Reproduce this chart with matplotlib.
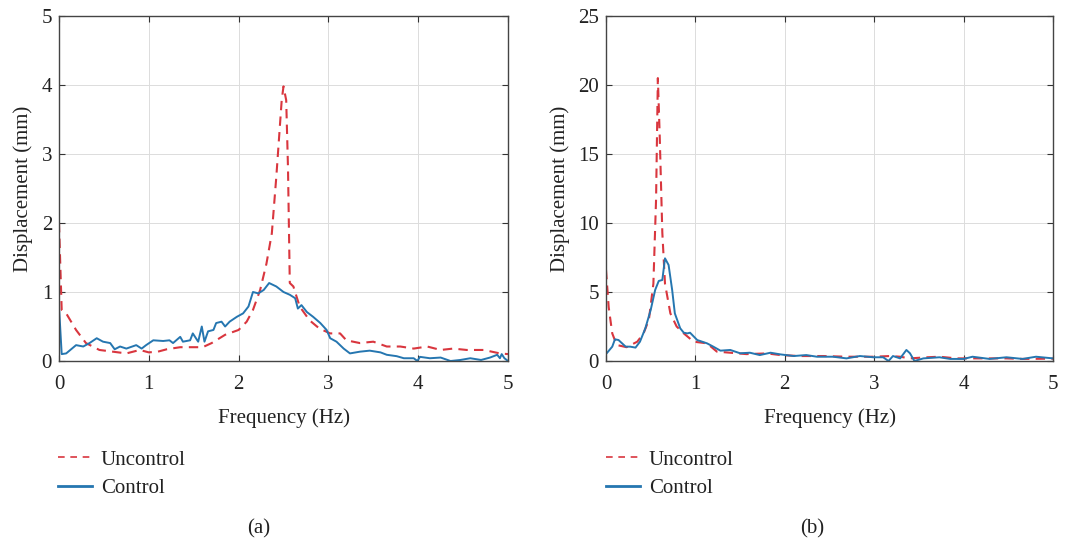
import matplotlib
matplotlib.use("Agg")
import matplotlib.pyplot as plt
from matplotlib.lines import Line2D

plt.rcParams['font.family'] = ['Liberation Serif', 'DejaVu Serif']

# ---- Panel (a) data ----
a_unc_f = [0.0, 0.03, 0.08, 0.19, 0.3, 0.45, 0.6, 0.75, 0.9, 1.0, 1.1, 1.2, 1.35, 1.5, 1.6, 1.7, 1.85, 2.0, 2.09,
           2.16, 2.24, 2.31, 2.37, 2.42, 2.48, 2.5, 2.53, 2.55, 2.57, 2.61, 2.68, 2.79, 2.9, 3.02, 3.13, 3.2,
           3.35, 3.5, 3.65, 3.8, 3.95, 4.1, 4.25, 4.39, 4.54, 4.73, 4.91, 5.0]
a_unc_v = [2.0, 0.74, 0.69, 0.45, 0.26, 0.16, 0.135, 0.11, 0.16, 0.125, 0.135, 0.17, 0.2, 0.2, 0.2, 0.26, 0.38, 0.45,
           0.57, 0.74, 1.03, 1.41, 1.85, 2.67, 3.78, 3.98, 3.78, 2.8, 1.13, 1.08, 0.79, 0.59, 0.47, 0.4, 0.4, 0.3,
           0.26, 0.28, 0.21, 0.21, 0.18, 0.21, 0.16, 0.18, 0.16, 0.16, 0.11, 0.1]

a_ctl_f = [0.0, 0.03, 0.08, 0.19, 0.27, 0.34, 0.42, 0.49, 0.57, 0.62, 0.68, 0.75, 0.86, 0.92, 0.97, 1.05, 1.16,
           1.23, 1.27, 1.35, 1.38, 1.46, 1.49, 1.55, 1.59, 1.62, 1.66, 1.72, 1.75, 1.81, 1.85, 1.9, 1.98, 2.05,
           2.11, 2.16, 2.22, 2.28, 2.34, 2.42, 2.5, 2.57, 2.63, 2.66, 2.7, 2.76, 2.83, 2.91, 2.98, 3.02, 3.09,
           3.17, 3.24, 3.35, 3.46, 3.58, 3.65, 3.76, 3.84, 3.95, 3.99, 4.02, 4.13, 4.25, 4.36, 4.47, 4.58, 4.7,
           4.8, 4.88, 4.91, 4.93, 4.96, 5.0]
a_ctl_v = [0.79, 0.1, 0.11, 0.23, 0.21, 0.26, 0.33, 0.28, 0.26, 0.17, 0.21, 0.18, 0.23, 0.18, 0.23, 0.3, 0.29,
           0.3, 0.26, 0.35, 0.28, 0.3, 0.4, 0.28, 0.5, 0.28, 0.43, 0.45, 0.55, 0.57, 0.5, 0.57, 0.64, 0.69,
           0.79, 1.0, 0.98, 1.03, 1.13, 1.08, 1.0, 0.96, 0.91, 0.76, 0.81, 0.71, 0.64, 0.55, 0.45, 0.33, 0.28,
           0.18, 0.11, 0.135, 0.15, 0.125, 0.09, 0.07, 0.04, 0.04, 0.0, 0.06, 0.04, 0.05, 0.0, 0.015, 0.04, 0.015,
           0.05, 0.09, 0.04, 0.1, 0.04, 0.0]

# ---- Panel (b) data ----
b_unc_f = [0.0, 0.03, 0.07, 0.12, 0.23, 0.35, 0.42, 0.48, 0.53, 0.56, 0.58, 0.6, 0.63, 0.66, 0.72, 0.79, 0.87,
           0.98, 1.13, 1.24, 1.39, 1.57, 1.8, 1.95, 2.17, 2.43, 2.69, 2.99, 3.18, 3.29, 3.4, 3.59, 3.73, 3.92,
           4.1, 4.48, 4.66, 5.0]
b_unc_v = [6.6, 3.9, 2.0, 1.16, 1.0, 1.4, 2.0, 3.0, 5.6, 11.7, 20.5, 16.5, 9.3, 5.6, 3.45, 2.5, 2.0,
           1.4, 1.28, 0.68, 0.6, 0.5, 0.55, 0.43, 0.36, 0.36, 0.31, 0.31, 0.36, 0.31, 0.19, 0.27, 0.31, 0.19,
           0.19, 0.19, 0.15, 0.17]

b_ctl_f = [0.0, 0.07, 0.1, 0.14, 0.22, 0.27, 0.33, 0.38, 0.44, 0.5, 0.55, 0.59, 0.63, 0.66, 0.7, 0.74, 0.77,
           0.83, 0.87, 0.91, 0.94, 1.02, 1.13, 1.2, 1.28, 1.39, 1.5, 1.61, 1.72, 1.84, 1.95, 2.1, 2.24, 2.36,
           2.54, 2.69, 2.84, 2.99, 3.1, 3.16, 3.21, 3.29, 3.36, 3.4, 3.45, 3.55, 3.73, 3.85, 4.0, 4.1, 4.29,
           4.48, 4.66, 4.81, 5.0]
b_ctl_v = [0.5, 1.04, 1.57, 1.52, 1.04, 1.04, 0.97, 1.4, 2.37, 3.7, 5.15, 5.8, 5.87, 7.44, 6.96, 5.15, 3.45,
           2.37, 2.05, 2.0, 2.05, 1.52, 1.28, 1.04, 0.75, 0.8, 0.56, 0.6, 0.43, 0.6, 0.48, 0.36, 0.43, 0.31,
           0.31, 0.19, 0.36, 0.27, 0.27, 0.0, 0.36, 0.19, 0.8, 0.56, 0.0, 0.19, 0.27, 0.15, 0.15, 0.31, 0.15,
           0.27, 0.15, 0.31, 0.19]

x_ticks = [0, 1, 2, 3, 4, 5]
a_yticks = [0, 1, 2, 3, 4, 5]
b_yticks = [0, 5, 10, 15, 20, 25]

RED = '#d9363e'
BLUE = '#2576b0'
FS = 15

W, H = 1071, 539
fig = plt.figure(figsize=(W / 100, H / 100), dpi=100)

def px(x0, x1, ytop, ybot):
    return [x0 / W, 1 - ybot / H, (x1 - x0) / W, (ybot - ytop) / H]

panels = [
    (px(59, 508, 16, 361), a_unc_f, a_unc_v, a_ctl_f, a_ctl_v, a_yticks, '(a)', 259, 58),
    (px(606, 1053, 16, 361), b_unc_f, b_unc_v, b_ctl_f, b_ctl_v, b_yticks, '(b)', 812, 606),
]

for rect, uf, uv, cf, cv, yt, tag, tagx, legx in panels:
    ax = fig.add_axes(rect)
    ax.plot(uf, uv, color=RED, lw=1.5, ls=(0, (4.5, 3)))
    ax.plot(cf, cv, color=BLUE, lw=1.4)
    ax.set_xlim(0, 5)
    ax.set_ylim(yt[0], yt[-1])
    ax.set_xticks(x_ticks)
    ax.set_yticks(yt)
    ax.grid(True, color='#dcdcdc', lw=0.7)
    ax.set_axisbelow(True)
    ax.tick_params(direction='in', top=True, right=True, labelsize=FS, length=4,
                   color='#333333', labelcolor='#222222')
    ax.tick_params(axis='x', pad=10)
    ax.tick_params(axis='y', pad=5)
    for s in ax.spines.values():
        s.set_color('#444444')
        s.set_linewidth(1.0)
    ax.set_xlabel('Frequency (Hz)', fontsize=FS, color='#222222', labelpad=10)
    ax.set_ylabel('Displacement (mm)', fontsize=FS, color='#222222', labelpad=6)

    handles = [Line2D([], [], color=RED, lw=1.2, ls=(0, (4, 3.4))),
               Line2D([], [], color=BLUE, lw=2.0)]
    fig.legend(handles, ['Uncontrol', 'Control'], loc='upper left',
               bbox_to_anchor=(legx / W, 1 - 450 / H), frameon=False,
               fontsize=FS, handlelength=1.65, handletextpad=0.4, labelspacing=0.42,
               borderaxespad=0, borderpad=0, labelcolor='#222222')
    fig.text(tagx / W, 1 - 529 / H, tag, ha='center', va='center', fontsize=FS, color='#222222')

fig.savefig('out.png', dpi=100, facecolor='white')
